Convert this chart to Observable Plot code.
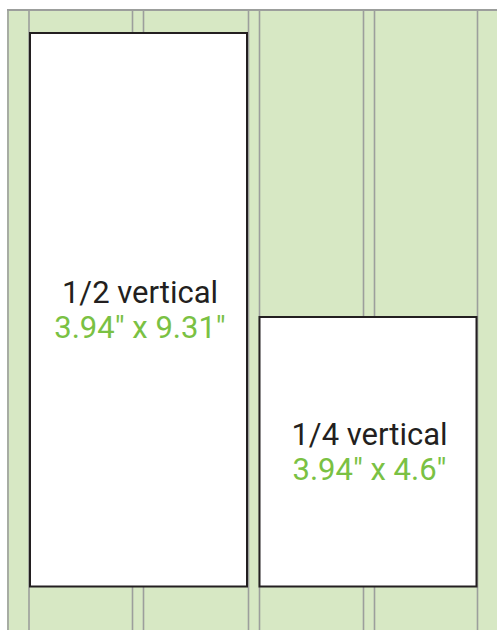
<!DOCTYPE html>
<html>
<head>
<meta charset="utf-8">
<script src="https://cdn.jsdelivr.net/npm/d3@7"></script>
<script src="https://cdn.jsdelivr.net/npm/@observablehq/plot@0.6"></script>
<style>
  html, body { margin: 0; padding: 0; background: #ffffff; }
  #chart svg { display: block; }
</style>
</head>
<body>
<div id="chart"></div>
<script>
// Page area (layout units = px of the diagram)
const pageExtent = [{x1: 7, x2: 497, y1: 9.5, y2: 630}];
// Column guide lines
const guideLines = [7.5, 28.5, 132, 143, 248, 259, 363, 374, 477];
// Ad boxes
const adNames = ["1/2 vertical", "1/4 vertical"];
const adSizes = ["3.94\u2033 x 9.31\u2033", "3.94\u2033 x 4.6\u2033"];
const adLeft = [30, 259.5];
const adRight = [247, 476.5];
const adTop = [33, 317];
const adBottom = [586.5, 586.5];

const boxes = adNames.map((name, i) => ({
  name, size: adSizes[i],
  x1: adLeft[i], x2: adRight[i], y1: adTop[i], y2: adBottom[i],
  cx: (adLeft[i] + adRight[i]) / 2 + 1,
  cy: (adTop[i] + adBottom[i]) / 2
}));

const fontFamily = "Roboto, 'DejaVu Sans', sans-serif";

const chart = Plot.plot({
  width: 497,
  height: 630,
  margin: 0,
  x: {domain: [0, 497], range: [0, 497], axis: null},
  y: {domain: [0, 630], range: [0, 630], axis: null},
  style: {background: "#ffffff", fontFamily},
  marks: [
    Plot.rect(pageExtent, {x1: "x1", x2: "x2", y1: "y1", y2: "y2", fill: "#d7e8c4"}),
    Plot.ruleX(guideLines, {x: d => d, y1: 9.5, y2: 630, stroke: "#9c9e9c", strokeWidth: 1.6}),
    Plot.ruleY([9.5], {x1: 7, x2: 497, stroke: "#9c9e9c", strokeWidth: 2}),
    Plot.rect(boxes, {x1: "x1", x2: "x2", y1: "y1", y2: "y2", fill: "#ffffff", stroke: "#231f20", strokeWidth: 2}),
    Plot.text(boxes, {x: "cx", y: d => d.cy - 7.5, text: "name", fill: "#231f20", fontSize: 31, lineAnchor: "bottom"}),
    Plot.text(boxes, {x: "cx", y: d => d.cy + 28, text: "size", fill: "#7ac143", fontSize: 31, lineAnchor: "bottom"})
  ]
});
document.getElementById("chart").appendChild(chart);
</script>
</body>
</html>
